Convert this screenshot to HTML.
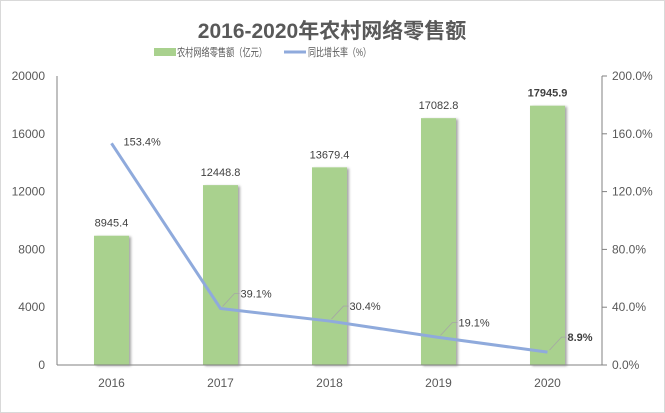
<!DOCTYPE html>
<html><head><meta charset="utf-8"><style>
body{margin:0;background:#fff}
svg{display:block;font-family:"Liberation Sans","Noto Sans CJK SC",sans-serif}
</style></head><body>
<svg id="chart" width="665" height="413">
<rect x="0.5" y="0.5" width="664" height="412" fill="#fff" stroke="#d9d9d9"/>
<defs><filter id="sh" x="-20%" y="-5%" width="160%" height="110%"><feDropShadow dx="2" dy="1" stdDeviation="1.2" flood-color="#000" flood-opacity="0.35"/></filter></defs>
<text x="332" y="38" text-anchor="middle" font-size="21" font-weight="bold" fill="#595959">2016-2020年农村网络零售额</text>
<g>
<rect x="154" y="48" width="22" height="8" fill="#a9d18e"/>
<text x="177" y="56" font-size="11" fill="#595959" textLength="90" lengthAdjust="spacingAndGlyphs">农村网络零售额（亿元）</text>
<line x1="284" y1="52" x2="306" y2="52" stroke="#8faadc" stroke-width="3"/>
<text x="308" y="56" font-size="11" fill="#595959" textLength="63" lengthAdjust="spacingAndGlyphs">同比增长率（%）</text>
</g>
<g id="plot"></g>
</svg>
<script>
const categories=["2016","2017","2018","2019","2020"];
const sales=[8945.4,12448.8,13679.4,17082.8,17945.9];
const growth=[153.4,39.1,30.4,19.1,8.9];
const leftTicks=[0,4000,8000,12000,16000,20000];
const rightTicks=[0,40,80,120,160,200];
const NS="http://www.w3.org/2000/svg";
const L=57,R=602,T=76,B=365;
const band=(R-L)/categories.length;
const x=i=>L+band*(i+0.5);
const yL=v=>B-(v/20000)*(B-T);
const yR=v=>B-(v/200)*(B-T);
const g=document.getElementById('plot');
function mk(tag,attrs,txt){const e=document.createElementNS(NS,tag);for(const k in attrs)e.setAttribute(k,attrs[k]);if(txt!=null)e.textContent=txt;g.appendChild(e);return e;}
leftTicks.forEach(t=>{const e=mk('text',{x:45,y:yL(t)+4,'text-anchor':'end','font-size':12,fill:'#595959'},String(t));

});
rightTicks.forEach(t=>{const e=mk('text',{x:612,y:yR(t)+4,'font-size':12,fill:'#595959'},t.toFixed(1)+'%');


const tk=mk('line',{x1:R,x2:R+5,y1:yR(t),y2:yR(t),stroke:'#808080'});

});
let a=mk('line',{x1:L,x2:L,y1:T,y2:B,stroke:'#808080'});


a=mk('line',{x1:R,x2:R,y1:T,y2:B,stroke:'#808080'});


const bw=35;
sales.forEach((v,i)=>{const b=mk('rect',{x:x(i)-bw/2,y:yL(v),width:bw,height:B-yL(v),fill:'#a9d18e',filter:'url(#sh)'});


const lb=mk('text',{x:x(i),y:yL(v)-9,'text-anchor':'middle','font-size':11,fill:'#404040','font-weight':i===4?'bold':'normal'},v.toFixed(1));


const c=mk('text',{x:x(i),y:B+22,'text-anchor':'middle','font-size':12,fill:'#595959'},categories[i]);

});
a=mk('line',{x1:L,x2:R,y1:B,y2:B,stroke:'#808080'});


const ln=mk('polyline',{points:growth.map((v,i)=>x(i)+','+yR(v)).join(' '),fill:'none',stroke:'#8faadc','stroke-width':3});


growth.forEach((v,i)=>{
if(i>0){const ld=mk('polyline',{points:`${x(i)+2},${yR(v)-2} ${x(i)+14},${yR(v)-15} ${x(i)+19},${yR(v)-15}`,fill:'none',stroke:'#a6a6a6','stroke-width':0.8});

}
const tx=i===0?x(i)+12:x(i)+20, ty=i===0?yR(v)+2:yR(v)-11;
const t=mk('text',{x:tx,y:ty,'font-size':11,fill:'#404040','font-weight':i===4?'bold':'normal'},v.toFixed(1)+'%');

});
</script>
</body></html>
